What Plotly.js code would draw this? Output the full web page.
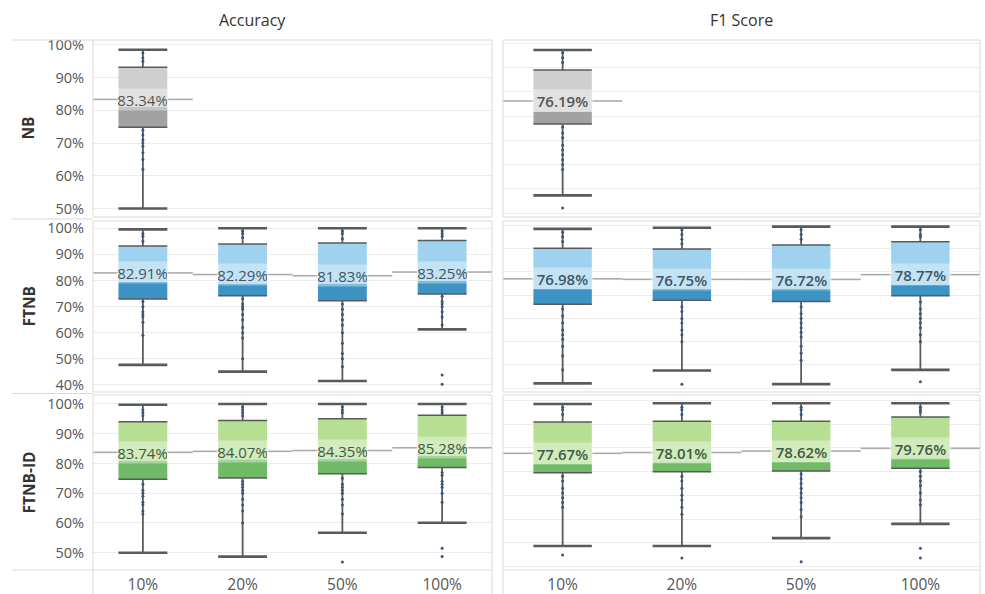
<!DOCTYPE html>
<html>
<head>
<meta charset="utf-8">
<script src="https://cdn.plot.ly/plotly-3.0.1.min.js"></script>
<style>
html,body{margin:0;padding:0;background:#fff;}
#chart{width:985px;height:594px;}
</style>
</head>
<body>
<div id="chart"></div>
<script>
// ---------------- DATA ----------------
const categories = ['10%', '20%', '50%', '100%'];
const models = ['NB', 'FTNB', 'FTNB-ID'];
const metrics = ['Accuracy', 'F1 Score'];

// Accuracy – NB (only 10%)
const accNB_top = [98.5];
const accNB_q3 = [93.2];
const accNB_med = [81.0];
const accNB_q1 = [74.8];
const accNB_low = [50.0];
const accNB_mean = [83.34];
const accNB_pts = [[97.5, 96, 95, 74, 72.5, 71, 70, 69, 67, 65, 62]];

// F1 – NB
const f1NB_top = [97.2];
const f1NB_q3 = [88.9];
const f1NB_med = [71.8];
const f1NB_q1 = [66.7];
const f1NB_low = [37.3];
const f1NB_mean = [76.19];
const f1NB_pts = [[96, 94, 92, 65.5, 63, 61, 58, 56, 54, 52, 50, 48, 32.1]];

// Accuracy – FTNB
const accFT_top = [99.6, 100, 100, 100];
const accFT_q3 = [93.2, 94.0, 94.4, 95.3];
const accFT_med = [79.5, 78.9, 78.7, 79.9];
const accFT_q1 = [72.9, 74.2, 72.3, 74.8];
const accFT_low = [47.7, 45.1, 41.5, 61.3];
const accFT_mean = [82.91, 82.29, 81.83, 83.25];
const accFT_pts = [
  [98, 97, 95, 72, 70, 68, 67, 66, 64, 59],
  [99, 98, 96.5, 73, 71, 70, 69, 67, 65, 62, 60, 58, 50],
  [99, 98, 96, 71, 69, 67, 65, 63, 60, 56, 52, 50, 47],
  [99, 98, 97, 74, 72, 71, 70, 68, 66, 63, 43.8, 40.3]
];

// F1 – FTNB
const f1FT_top = [98.4, 98.9, 99.4, 99.4];
const f1FT_q3 = [90.1, 89.8, 91.5, 92.9];
const f1FT_med = [72.6, 72.6, 72.6, 74.3];
const f1FT_q1 = [66.1, 67.8, 67.2, 69.7];
const f1FT_low = [32.1, 37.6, 31.8, 37.9];
const f1FT_mean = [76.98, 76.75, 76.72, 78.77];
const f1FT_pts = [
  [97, 95, 93, 64, 61, 58, 55, 53, 51, 48, 44, 38],
  [98, 96, 94, 92, 65, 63, 60, 58, 55, 53, 50, 31.7],
  [98, 96, 94, 65, 62, 60, 58, 56, 54, 52, 48, 45, 42],
  [98, 96, 95, 67, 64, 62, 60, 58, 56, 53, 50, 32.8]
];

// Accuracy – FTNB-ID
const accID_top = [99.7, 100, 100, 100];
const accID_q3 = [94.0, 94.4, 95.0, 96.2];
const accID_med = [80.8, 81.4, 81.7, 82.5];
const accID_q1 = [74.7, 75.1, 76.5, 78.6];
const accID_low = [50.0, 48.7, 56.7, 60.1];
const accID_mean = [83.74, 84.07, 84.35, 85.28];
const accID_pts = [
  [98, 97, 96, 73, 71, 70, 69, 67, 66, 64, 63],
  [99, 98, 97, 96, 74, 73, 72, 71, 70, 68, 66, 64, 60],
  [99, 98, 97, 75, 73, 72, 71, 70, 68, 66, 63, 46.9],
  [99, 98, 97, 77, 76, 74, 73, 72, 70, 67, 51.5, 48.7]
];

// F1 – FTNB-ID
const f1ID_top = [98.4, 98.7, 98.7, 98.7];
const f1ID_q3 = [90.8, 91.2, 91.2, 93.0];
const f1ID_med = [73.2, 73.9, 74.1, 75.6];
const f1ID_q1 = [69.5, 69.9, 70.2, 71.4];
const f1ID_low = [38.7, 38.7, 42.0, 48.0];
const f1ID_mean = [77.67, 78.01, 78.62, 79.76];
const f1ID_pts = [
  [97, 96, 94, 68, 66, 63, 61, 59, 57, 55, 34.9],
  [97, 96, 94, 68, 66, 63, 60, 58, 55, 52, 33.6],
  [97, 96, 94, 69, 67, 65, 63, 61, 59, 57, 54, 51, 32.1],
  [97, 96, 95, 70, 68, 66, 64, 61, 58, 56, 37.75, 33.6]
];

// ---------------- STYLE ----------------
const palette = {
  NB: {light: '#cfcfcf', dark: '#a2a2a2', text: '#555555'},
  FTNB: {light: '#9fd2ee', dark: '#3d94c4', text: '#3f5566'},
  'FTNB-ID': {light: '#b6df93', dark: '#70ba68', text: '#3f5a44'}
};
const BOXW = 0.49;
const lineCol = '#5a5a5a';
const refCol = '#ababab';
const dotCol = '#34557f';
const fontFam = 'Open Sans, sans-serif';

const traces = [];
const annotations = [];

function addCell(xa, ya, model, top, q3, med, q1, low, mean, pts, labelPx, weight) {
  const n = med.length;
  const idx = med.map((_, i) => i);
  const col = palette[model];
  traces.push({type: 'bar', xaxis: xa, yaxis: ya, x: idx, base: q1,
    y: med.map((m, i) => m - q1[i]), width: BOXW,
    marker: {color: col.dark, line: {width: 0}}, hoverinfo: 'skip', showlegend: false});
  traces.push({type: 'bar', xaxis: xa, yaxis: ya, x: idx, base: med,
    y: q3.map((v, i) => v - med[i]), width: BOXW,
    marker: {color: col.light, line: {width: 0}}, hoverinfo: 'skip', showlegend: false});
  const rx = [], ry = [];
  for (let i = 0; i < n; i++) {
    rx.push(i - 0.5, i - BOXW / 2, null, i + BOXW / 2, i + 0.5, null);
    ry.push(mean[i], mean[i], null, mean[i], mean[i], null);
  }
  traces.push({type: 'scatter', mode: 'lines', xaxis: xa, yaxis: ya, x: rx, y: ry,
    line: {color: refCol, width: 1.6}, hoverinfo: 'skip', showlegend: false});
  const wx = [], wy = [];
  for (let i = 0; i < n; i++) {
    wx.push(i, i, null, i, i, null);
    wy.push(q3[i], top[i], null, q1[i], low[i], null);
  }
  traces.push({type: 'scatter', mode: 'lines', xaxis: xa, yaxis: ya, x: wx, y: wy,
    line: {color: lineCol, width: 1.8}, hoverinfo: 'skip', showlegend: false});
  const cx = [], cy = [];
  for (let i = 0; i < n; i++) {
    [top[i], low[i]].forEach(v => { cx.push(i - BOXW / 2, i + BOXW / 2, null); cy.push(v, v, null); });
  }
  traces.push({type: 'scatter', mode: 'lines', xaxis: xa, yaxis: ya, x: cx, y: cy,
    line: {color: lineCol, width: 2.6}, hoverinfo: 'skip', showlegend: false});
  const ex = [], ey = [];
  for (let i = 0; i < n; i++) {
    [q3[i], q1[i]].forEach(v => { ex.push(i - BOXW / 2, i + BOXW / 2, null); ey.push(v, v, null); });
  }
  traces.push({type: 'scatter', mode: 'lines', xaxis: xa, yaxis: ya, x: ex, y: ey,
    line: {color: lineCol, width: 1.5}, hoverinfo: 'skip', showlegend: false});
  const px = [], py = [];
  pts.forEach((arr, i) => arr.forEach(v => { px.push(i); py.push(v); }));
  traces.push({type: 'scatter', mode: 'markers', xaxis: xa, yaxis: ya, x: px, y: py,
    marker: {color: dotCol, size: 3}, hoverinfo: 'skip', showlegend: false});
  for (let i = 0; i < n; i++) {
    annotations.push({xref: xa, yref: ya, x: i, y: mean[i], showarrow: false,
      text: mean[i].toFixed(2) + '%', width: labelPx, height: 19,
      bgcolor: 'rgba(255,255,255,0.38)',
      font: {family: fontFam, size: 15, color: col.text, weight: weight}});
  }
}

addCell('x', 'y', 'NB', accNB_top, accNB_q3, accNB_med, accNB_q1, accNB_low, accNB_mean, accNB_pts, 49, 400);
addCell('x2', 'y2', 'NB', f1NB_top, f1NB_q3, f1NB_med, f1NB_q1, f1NB_low, f1NB_mean, f1NB_pts, 59, 600);
addCell('x', 'y3', 'FTNB', accFT_top, accFT_q3, accFT_med, accFT_q1, accFT_low, accFT_mean, accFT_pts, 49, 400);
addCell('x2', 'y4', 'FTNB', f1FT_top, f1FT_q3, f1FT_med, f1FT_q1, f1FT_low, f1FT_mean, f1FT_pts, 59, 600);
addCell('x', 'y5', 'FTNB-ID', accID_top, accID_q3, accID_med, accID_q1, accID_low, accID_mean, accID_pts, 49, 400);
addCell('x2', 'y6', 'FTNB-ID', f1ID_top, f1ID_q3, f1ID_med, f1ID_q1, f1ID_low, f1ID_mean, f1ID_pts, 59, 600);

// ---------------- LAYOUT ----------------
const W = 985, H = 594;
const px2x = p => p / W;
const px2y = p => 1 - p / H;
const colL = [px2x(93), px2x(492)];
const colR = [px2x(503), px2x(980)];
const rows = [[40, 217], [221, 392], [395, 570]];
const rowDom = rows.map(r => [px2y(r[1]), px2y(r[0])]);

const tickFont = {family: fontFam, size: 14.5, color: '#555'};
function yLeft(dom, range) {
  return {domain: dom, range: range, dtick: 10, tick0: 0, ticksuffix: '%',
    showgrid: true, gridcolor: '#ececec', gridwidth: 1, zeroline: false, showline: false,
    ticks: '', tickfont: tickFont, ticklabelstandoff: 8, fixedrange: true};
}
function yRight(dom, range) {
  return {domain: dom, range: range, dtick: 10, tick0: 0, showticklabels: false,
    showgrid: true, gridcolor: '#ececec', gridwidth: 1, zeroline: false, showline: false,
    ticks: '', fixedrange: true};
}
function xAx(dom, anchor) {
  return {domain: dom, anchor: anchor, range: [-0.5, 3.5], tickvals: categories.map((_, i) => i),
    ticktext: categories, showgrid: false, zeroline: false, showline: false, ticks: '',
    tickfont: {family: fontFam, size: 15.5, color: '#555'}, ticklabelstandoff: 3, fixedrange: true};
}

const shapes = [];
const border = '#d9d9d9';
[colL, colR].forEach(c => rowDom.forEach(d => {
  shapes.push({type: 'rect', xref: 'paper', yref: 'paper', x0: c[0], x1: c[1], y0: d[0], y1: d[1],
    line: {color: border, width: 1}, layer: 'above'});
}));
[40, 219, 393.5, 570].forEach(p => {
  shapes.push({type: 'line', xref: 'paper', yref: 'paper', x0: px2x(12), x1: colL[0], y0: px2y(p), y1: px2y(p),
    line: {color: border, width: 1}});
});
[colL[0], colL[1], colR[0], colR[1]].forEach(x => {
  shapes.push({type: 'line', xref: 'paper', yref: 'paper', x0: x, x1: x, y0: 0, y1: px2y(570),
    line: {color: border, width: 1}});
});

annotations.push({xref: 'paper', yref: 'paper', x: px2x(252), y: px2y(20), yanchor: 'middle', xanchor: 'center',
  showarrow: false, text: metrics[0], font: {family: fontFam, size: 16, color: '#333'}});
annotations.push({xref: 'paper', yref: 'paper', x: px2x(741), y: px2y(20), yanchor: 'middle', xanchor: 'center',
  showarrow: false, text: metrics[1], font: {family: fontFam, size: 16, color: '#333'}});
models.forEach((m, i) => {
  annotations.push({xref: 'paper', yref: 'paper', x: px2x(28), y: (rowDom[i][0] + rowDom[i][1]) / 2,
    xanchor: 'center', yanchor: 'middle', showarrow: false, text: m, textangle: -90,
    font: {family: fontFam, size: 15.5, color: '#333', weight: 700}});
});

const layout = {
  width: W, height: H, margin: {l: 0, r: 0, t: 0, b: 0},
  paper_bgcolor: '#fff', plot_bgcolor: '#fff', barmode: 'overlay', showlegend: false,
  xaxis: xAx(colL, 'y5'),
  xaxis2: xAx(colR, 'y6'),
  yaxis: Object.assign(yLeft(rowDom[0], [47.4, 101.5]), {anchor: 'x'}),
  yaxis2: Object.assign(yRight(rowDom[0], [28.4, 101.3]), {anchor: 'x2'}),
  yaxis3: Object.assign(yLeft(rowDom[1], [37.3, 102.8]), {anchor: 'x'}),
  yaxis4: Object.assign(yRight(rowDom[1], [28.4, 101.8]), {anchor: 'x2'}),
  yaxis5: Object.assign(yLeft(rowDom[2], [44.2, 103.0]), {anchor: 'x'}),
  yaxis6: Object.assign(yRight(rowDom[2], [28.6, 102.2]), {anchor: 'x2'}),
  shapes: shapes, annotations: annotations
};

Plotly.newPlot('chart', traces, layout, {displayModeBar: false, staticPlot: true});
</script>
</body>
</html>
